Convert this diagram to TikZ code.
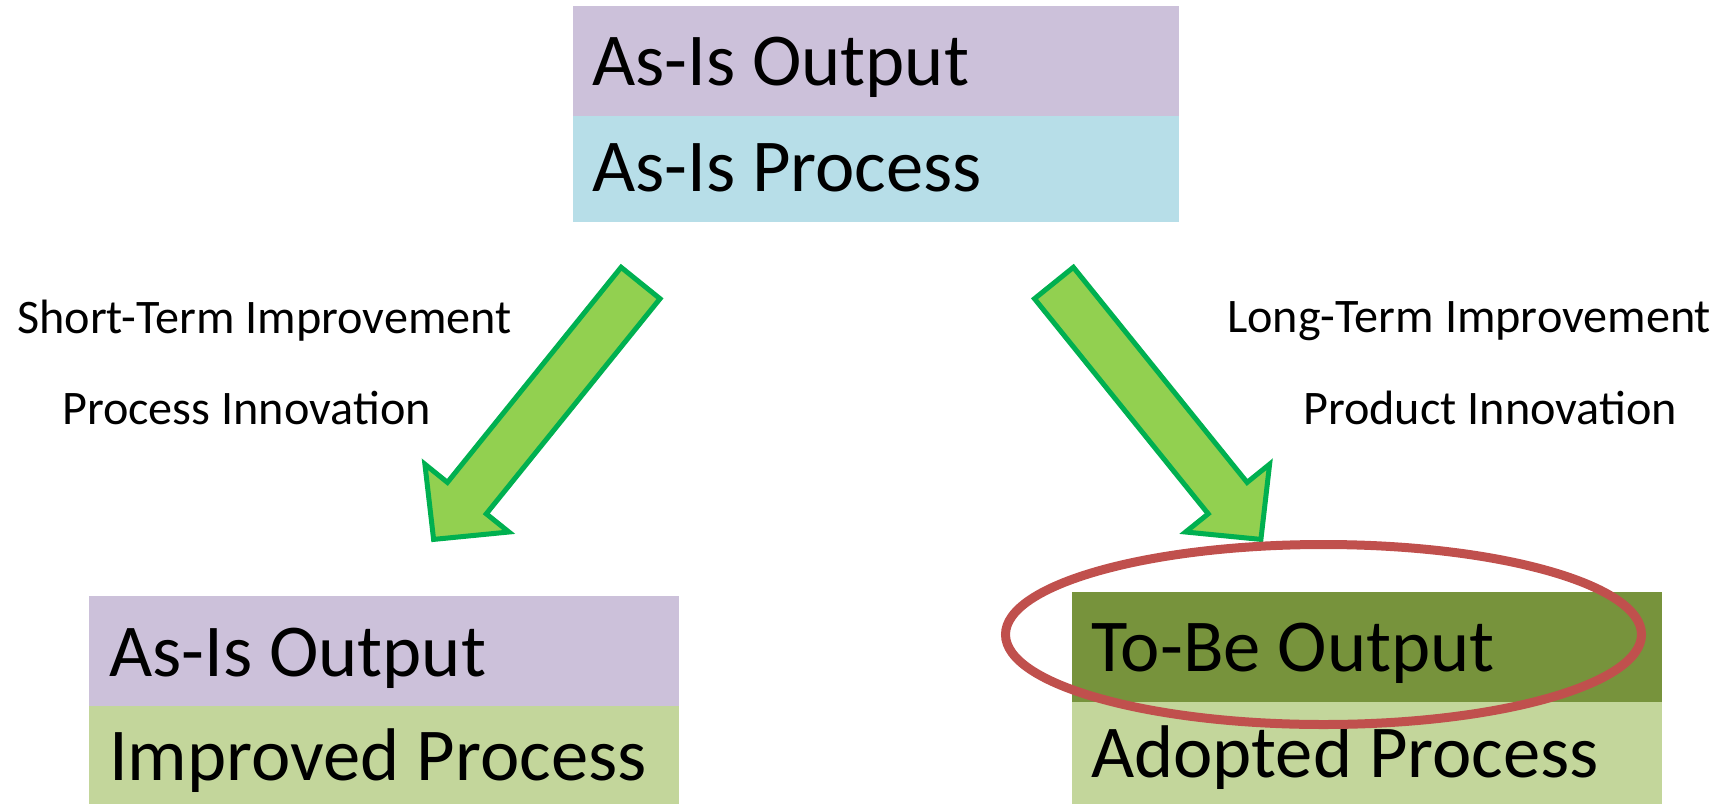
\documentclass[tikz,border=0pt]{standalone}
\usepackage{fontspec}
\setmainfont{Carlito}
\usetikzlibrary{calc}
\definecolor{lav}{HTML}{CCC1DA}
\definecolor{aqua}{HTML}{B7DEE8}
\definecolor{olivebox}{HTML}{77933C}
\definecolor{lgreen}{HTML}{C3D69B}
\definecolor{arrfill}{HTML}{92D050}
\definecolor{arrline}{HTML}{00B050}
\definecolor{ring}{HTML}{C0504D}
\begin{document}
\begin{tikzpicture}[x=1pt,y=-1pt,
  band/.style={fill=#1, draw=none, inner sep=0pt, outer sep=0pt, anchor=north west},
  boxtext/.style={font=\fontsize{74.6}{88}\selectfont, inner sep=0pt, anchor=base west},
  labeltext/.style={font=\fontsize{48.2}{56}\selectfont, inner sep=0pt, anchor=base west},
  blockarrow/.style={fill=arrfill, draw=arrline, line width=5pt, line join=miter},
  ringline/.style={draw=ring, line width=9pt}
]
\useasboundingbox (0,0) rectangle (1722,804);

% top box
\node[band=lav, minimum width=606pt, minimum height=110pt] (topout) at (573,6) {};
\node[band=aqua, minimum width=606pt, minimum height=106pt] (topproc) at (573,116) {};
\node[boxtext] (topouttxt) at ($(topout.north west)+(19,79)$) {As-Is Output};
\node[boxtext] (topproctxt) at ($(topproc.north west)+(19,75)$) {As-Is Process};

% bottom left box
\node[band=lav, minimum width=590pt, minimum height=110pt] (leftout) at (89,596) {};
\node[band=lgreen, minimum width=590pt, minimum height=98pt] (leftproc) at (89,706) {};
\node[boxtext] (leftouttxt) at ($(leftout.north west)+(20,80)$) {As-Is Output};
\node[boxtext] (leftproctxt) at ($(leftproc.north west)+(20,74)$) {Improved Process};

% bottom right box
\node[band=olivebox, minimum width=590pt, minimum height=110pt] (rightout) at (1072,592) {};
\node[band=lgreen, minimum width=590pt, minimum height=102pt] (rightproc) at (1072,702) {};
\node[boxtext] (rightouttxt) at ($(rightout.north west)+(19,79)$) {To-Be Output};
\node[boxtext] (rightproctxt) at ($(rightproc.north west)+(19,75)$) {Adopted Process};

% labels
\node[labeltext] (lab1) at (17,333) {Short-Term Improvement};
\node[labeltext] (lab2) at (62,424) {Process Innovation};
\node[labeltext] (lab3) at (1227,332) {Long-Term Improvement};
\node[labeltext] (lab4) at (1303,424) {Product Innovation};

% block arrows
\draw[blockarrow] (433.6,539.4) -- (508.9,532.0) -- (486.3,513.8) -- (660.0,298.7)
  -- (621.1,267.3) -- (447.4,482.4) -- (424.9,464.2) -- cycle;
\draw[blockarrow] (1260.9,539.4) -- (1185.6,532.0) -- (1208.2,513.8) -- (1034.5,298.7)
  -- (1073.4,267.3) -- (1247.1,482.4) -- (1269.6,464.2) -- cycle;

% highlight ellipse
\draw[ringline] (1323.5,634.5) ellipse [x radius=318, y radius=90];
\end{tikzpicture}
\end{document}
